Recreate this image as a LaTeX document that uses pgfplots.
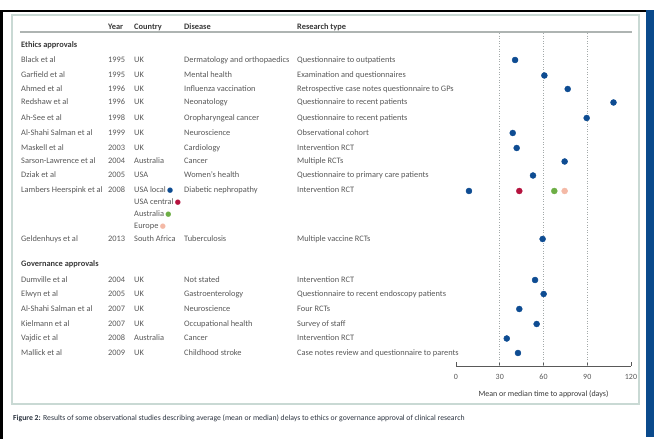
\documentclass[border=0pt]{standalone}
\usepackage{pgfplots}
\pgfplotsset{compat=1.18}
\usepackage{pgfplotstable}
\usepackage{fontspec}
\setmainfont{Carlito}
\newfontfamily\symfont{DejaVu Sans}

\definecolor{txtgray}{HTML}{585858}
\definecolor{headgray}{HTML}{383838}
\definecolor{dotblue}{HTML}{0E4C92}
\definecolor{dotred}{HTML}{B5123E}
\definecolor{dotgreen}{HTML}{6DAE45}
\definecolor{dotpink}{HTML}{F4B9A6}
\definecolor{framecol}{HTML}{C9D9D4}
\definecolor{rulegray}{HTML}{AEB4B2}
\definecolor{gridgray}{HTML}{A4AAAA}
\definecolor{barblue}{HTML}{0A4A8C}
\definecolor{capcol}{HTML}{2C3440}

% days to approval; row = vertical position of the study row (bp from top)
\pgfplotstableread{
days row
40.5 60
60.6 75.5
76.6 89
108.0 102.5
89.6 118
38.9 133
41.6 148
74.5 161.5
52.8 175.5
8.9 191
59.4 239
}\ethics
\pgfplotstableread{
days row
54.2 280
60.1 294
43.4 309
55.3 324
34.8 338.5
42.5 353
}\governance

\newcommand{\studyrow}[6]{%
  \node[txt] at (21,#1) {#2};
  \node[txt] at (108,#1) {#3};
  \node[txt] at (134,#1) {#4};
  \node[txt] at (184,#1) {#5};
  \node[txt] at (297,#1) {#6};}
\newcommand{\bul}[1]{\,{\symfont\textcolor{#1}{\fontsize{7}{8}\selectfont ●}}}

\begin{document}
\begin{tikzpicture}
\begin{axis}[
  x=1.458333bp, y=1bp,
  xmin=0, xmax=120, ymin=-366, ymax=-33,
  axis x line=bottom, axis y line=none,
  axis line style={-, color=black!65, line width=0.6pt},
  xtick={0,30,60,90,120},
  tick align=inside,
  major tick length=4bp,
  tick style={color=black!65, line width=0.6pt},
  xticklabel style={font=\fontsize{8}{9.6}\selectfont, text=txtgray, yshift=-4.5bp},
  /pgf/number format/assume math mode=true,
  xlabel={Mean or median time to approval (days)},
  xlabel style={font=\fontsize{8}{9.6}\selectfont, text=headgray, yshift=-4bp},
  clip=false,
]
  \addplot[gridgray, dotted, line width=0.6pt] coordinates {(30,-33) (30,-366)};
  \addplot[gridgray, dotted, line width=0.6pt] coordinates {(60,-33) (60,-366)};
  \addplot[gridgray, dotted, line width=0.6pt] coordinates {(90,-33) (90,-366)};

  \addplot[only marks, mark=*, mark size=3bp, color=dotblue]
    table[x=days, y expr=-\thisrow{row}] {\ethics};
  \addplot[only marks, mark=*, mark size=3bp, color=dotblue]
    table[x=days, y expr=-\thisrow{row}] {\governance};
  % Lambers Heerspink et al, other sites
  \addplot[only marks, mark=*, mark size=3bp, color=dotred] coordinates {(43.4,-191)};
  \addplot[only marks, mark=*, mark size=3bp, color=dotgreen] coordinates {(67.4,-191)};
  \addplot[only marks, mark=*, mark size=3bp, color=dotpink] coordinates {(74.5,-191)};

  \coordinate (O) at (axis cs:-312.6857,0);
\end{axis}

\begin{scope}[shift={(O)}, x=1bp, y=-1bp,
  txt/.style={anchor=west, inner sep=0pt, text height=5.8bp, text depth=1.6bp,
              font=\fontsize{8.4}{10}\selectfont, text=txtgray},
  head/.style={txt, font=\fontsize{8.4}{10}\selectfont\bfseries, text=headgray}]
  % page furniture
  \fill[black] (0,10.5) rectangle (646,12.5);
  \fill[black] (0,10.5) rectangle (3,439);
  \fill[barblue] (646,10) rectangle (654,437);
  \draw[framecol, line width=1.3bp] (12,15) rectangle (639,404);
  \draw[rulegray, line width=1.2bp] (20,32) -- (632,32);

  % column heads
  \node[head] at (108,27) {Year};
  \node[head] at (134,27) {Country};
  \node[head] at (184,27) {Disease};
  \node[head] at (297,27) {Research type};

  \node[head] at (21,45.5) {Ethics approvals};
  \studyrow{60}{Black et al}{1995}{UK}{Dermatology and orthopaedics}{Questionnaire to outpatients}
  \studyrow{75.5}{Garfield et al}{1995}{UK}{Mental health}{Examination and questionnaires}
  \studyrow{89}{Ahmed et al}{1996}{UK}{Influenza vaccination}{Retrospective case notes questionnaire to GPs}
  \studyrow{102.5}{Redshaw et al}{1996}{UK}{Neonatology}{Questionnaire to recent patients}
  \studyrow{118}{Ah-See et al}{1998}{UK}{Oropharyngeal cancer}{Questionnaire to recent patients}
  \studyrow{133}{Al-Shahi Salman et al}{1999}{UK}{Neuroscience}{Observational cohort}
  \studyrow{148}{Maskell et al}{2003}{UK}{Cardiology}{Intervention RCT}
  \studyrow{161.5}{Sarson-Lawrence et al}{2004}{Australia}{Cancer}{Multiple RCTs}
  \studyrow{175.5}{Dziak et al}{2005}{USA}{Women’s health}{Questionnaire to primary care patients}
  \studyrow{190}{Lambers Heerspink et al}{2008}{USA local\bul{dotblue}}{Diabetic nephropathy}{Intervention RCT}
  \node[txt] at (134,202.5) {USA central\bul{dotred}};
  \node[txt] at (134,214.5) {Australia\bul{dotgreen}};
  \node[txt] at (134,226.5) {Europe\bul{dotpink}};
  \studyrow{239}{Geldenhuys et al}{2013}{South Africa}{Tuberculosis}{Multiple vaccine RCTs}

  \node[head] at (21,264) {Governance approvals};
  \studyrow{280}{Dumville et al}{2004}{UK}{Not stated}{Intervention RCT}
  \studyrow{294}{Elwyn et al}{2005}{UK}{Gastroenterology}{Questionnaire to recent endoscopy patients}
  \studyrow{309}{Al-Shahi Salman et al}{2007}{UK}{Neuroscience}{Four RCTs}
  \studyrow{324}{Kielmann et al}{2007}{UK}{Occupational health}{Survey of staff}
  \studyrow{338.5}{Vajdic et al}{2008}{Australia}{Cancer}{Intervention RCT}
  \studyrow{353}{Mallick et al}{2009}{UK}{Childhood stroke}{Case notes review and questionnaire to parents}

  \node[txt, text=capcol, font=\fontsize{7.75}{9}\selectfont] at (13,418)
    {\textbf{Figure 2:} Results of some observational studies describing average (mean or median) delays to ethics or governance approval of clinical research};

  \path (0,0) rectangle (654,439);
\end{scope}
\end{tikzpicture}
\end{document}
